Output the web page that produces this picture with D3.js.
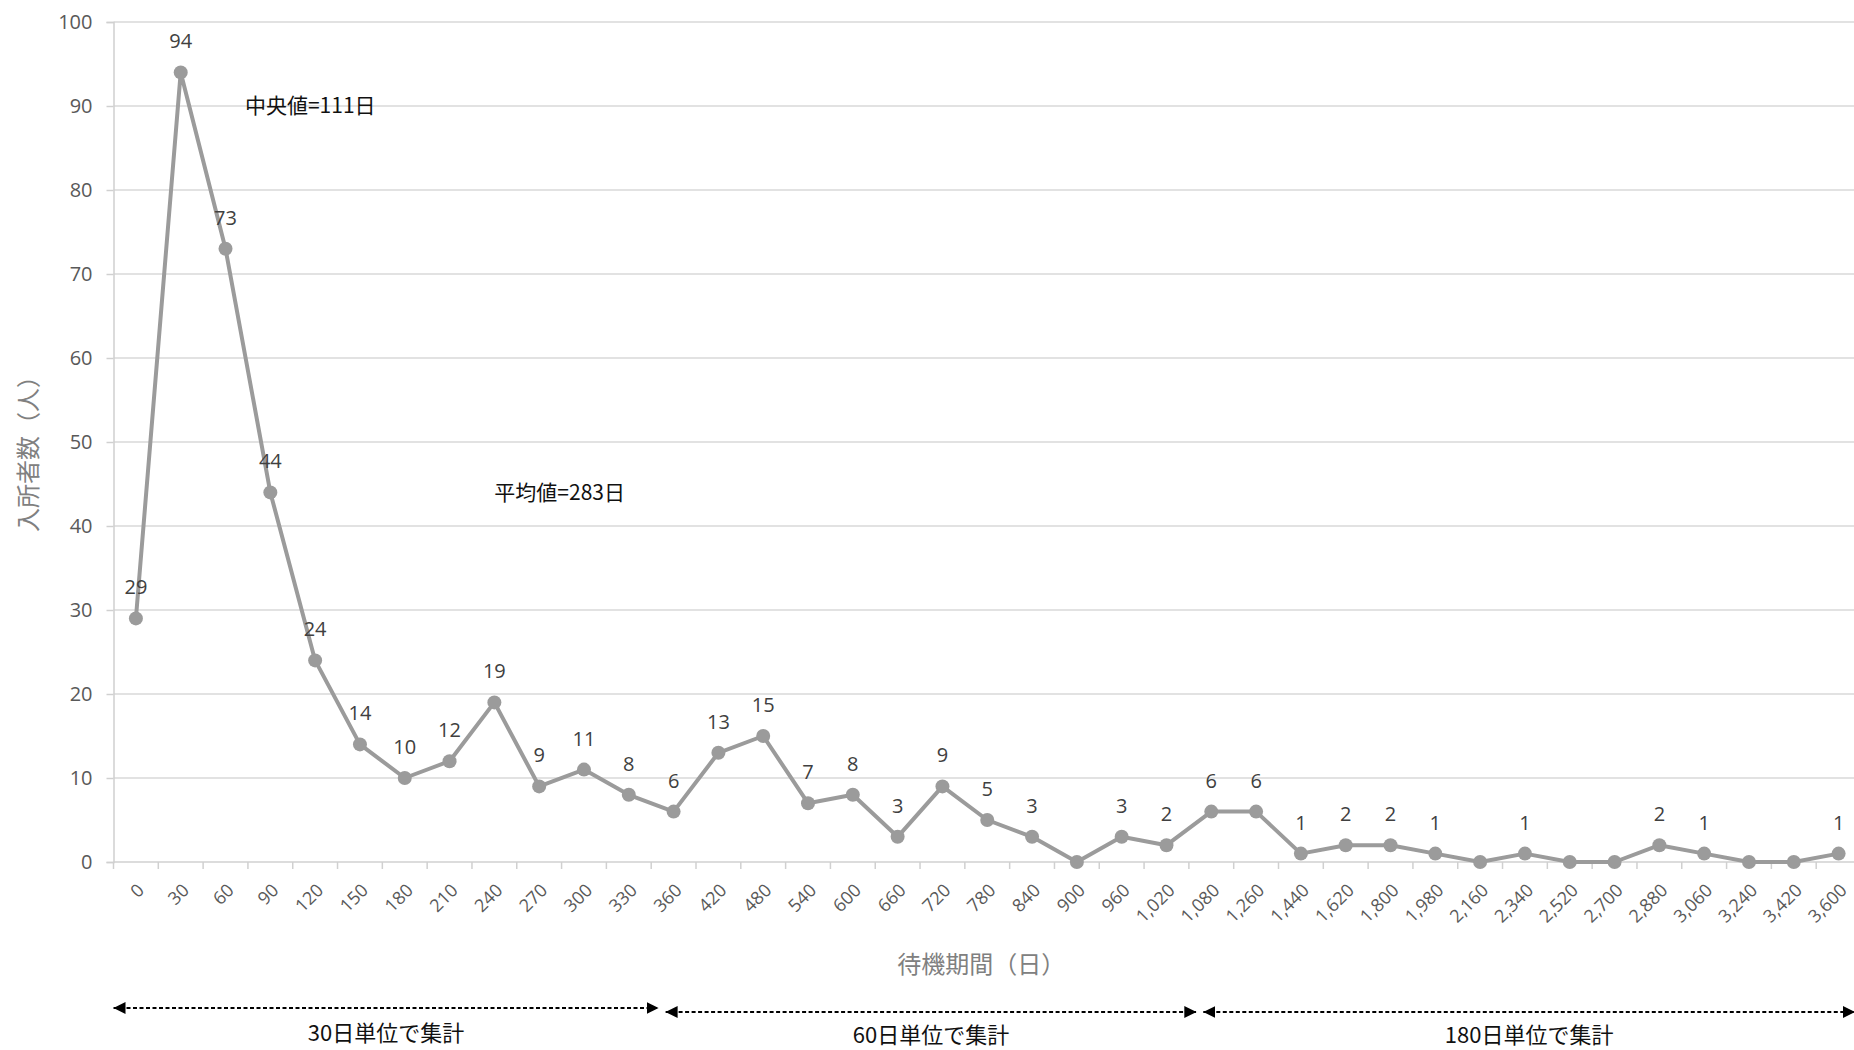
<!DOCTYPE html>
<html>
<head>
<meta charset="utf-8">
<script src="https://cdn.jsdelivr.net/npm/d3@7"></script>
<style>
  body { margin: 0; background: #fff; }
  svg { display: block; }
</style>
</head>
<body>
<div id="wrapper"></div>
<script>
// categories (waiting days) and counts
const categories = ["0","30","60","90","120","150","180","210","240","270","300","330","360",
  "420","480","540","600","660","720","780","840","900","960","1,020","1,080",
  "1,260","1,440","1,620","1,800","1,980","2,160","2,340","2,520","2,700","2,880","3,060","3,240","3,420","3,600"];
const counts = [29,94,73,44,24,14,10,12,19,9,11,8,6,
  13,15,7,8,3,9,5,3,0,3,2,6,
  6,1,2,2,1,0,1,0,0,2,1,0,0,1];
const yTicks = [0,10,20,30,40,50,60,70,80,90,100];
const groups = [
  {label: "30日単位で集計", from: "0", to: "360"},
  {label: "60日単位で集計", from: "360", to: "1,080"},
  {label: "180日単位で集計", from: "1,080", to: null}
];
const notes = [
  {text: "中央値=111日", cat: "90", value: 90},
  {text: "平均値=283日", cat: "240", value: 44}
];

const drawChart = () => {
  const dimensions = {
    width: 1854,
    height: 1050,
    margin: {top: 22, right: -7, bottom: 188, left: 113.5}
  };
  dimensions.boundedWidth = dimensions.width - dimensions.margin.left - dimensions.margin.right;
  dimensions.boundedHeight = dimensions.height - dimensions.margin.top - dimensions.margin.bottom;

  const svg = d3.select("#wrapper").append("svg")
    .attr("width", dimensions.width)
    .attr("height", dimensions.height);

  const bounds = svg.append("g")
    .attr("transform", `translate(${dimensions.margin.left},${dimensions.margin.top})`);

  const xScale = d3.scaleBand()
    .domain(categories)
    .range([0, dimensions.boundedWidth]);
  const bw = xScale.bandwidth();
  const xc = c => xScale(c) + bw / 2;

  const yScale = d3.scaleLinear()
    .domain([0, 100])
    .range([dimensions.boundedHeight, 0]);

  const tickFont = "'Open Sans', 'Noto Sans', sans-serif";
  const cjkFont = "'Noto Sans CJK JP', sans-serif";

  // gridlines
  bounds.append("g").selectAll("line")
    .data(yTicks.filter(d => d > 0))
    .join("line")
    .attr("x1", 0).attr("x2", dimensions.boundedWidth)
    .attr("y1", d => yScale(d)).attr("y2", d => yScale(d))
    .attr("stroke", "#d9d9d9").attr("stroke-width", 1.5);

  // y axis
  const yAxis = bounds.append("g")
    .call(d3.axisLeft(yScale).tickValues(yTicks).tickSize(7).tickPadding(14));
  yAxis.select(".domain").attr("stroke", "#d0d0d0").attr("stroke-width", 1.5);
  yAxis.selectAll(".tick line").attr("stroke", "#d0d0d0").attr("stroke-width", 1.5);
  yAxis.selectAll("text")
    .attr("fill", "#595959").style("font-size", "20px").style("font-family", tickFont);

  // x axis, ticks between categories
  const xAxisG = bounds.append("g")
    .attr("transform", `translate(0,${dimensions.boundedHeight})`);
  xAxisG.append("line")
    .attr("x1", 0).attr("x2", dimensions.boundedWidth)
    .attr("stroke", "#d0d0d0").attr("stroke-width", 1.5);
  xAxisG.selectAll(".tk")
    .data(categories)
    .join("line").attr("class", "tk")
    .attr("x1", d => xScale(d)).attr("x2", d => xScale(d))
    .attr("y1", 0).attr("y2", 7)
    .attr("stroke", "#d0d0d0").attr("stroke-width", 1.5);
  xAxisG.selectAll("text")
    .data(categories)
    .join("text")
    .attr("transform", d => `translate(${xc(d) + 5},${25}) rotate(-45)`)
    .attr("text-anchor", "end")
    .attr("dy", "0.35em")
    .attr("fill", "#595959")
    .style("font-size", "18px").style("font-family", tickFont)
    .text(d => d);

  // line + markers
  const lineGen = d3.line()
    .x((d, i) => xc(categories[i]))
    .y(d => yScale(d));
  bounds.append("path")
    .datum(counts)
    .attr("d", lineGen)
    .attr("fill", "none")
    .attr("stroke", "#9b9b9b")
    .attr("stroke-width", 4)
    .attr("stroke-linejoin", "round");
  bounds.append("g").selectAll("circle")
    .data(counts)
    .join("circle")
    .attr("cx", (d, i) => xc(categories[i]))
    .attr("cy", d => yScale(d))
    .attr("r", 7)
    .attr("fill", "#9b9b9b");

  // data labels (zeros unlabeled)
  bounds.append("g").selectAll("text")
    .data(counts.map((v, i) => ({v, c: categories[i]})).filter(d => d.v > 0))
    .join("text")
    .attr("x", d => xc(d.c))
    .attr("y", d => yScale(d.v) - 24)
    .attr("text-anchor", "middle")
    .attr("fill", "#404040")
    .style("font-size", "20px").style("font-family", tickFont)
    .text(d => d.v);

  // notes
  bounds.append("g").selectAll("text")
    .data(notes)
    .join("text")
    .attr("x", (d, i) => i === 0 ? xScale(d.cat) - 3 : xc(d.cat))
    .attr("y", d => yScale(d.value))
    .attr("dy", "0.35em")
    .attr("fill", "#111")
    .style("font-size", "21px").style("font-family", cjkFont)
    .text(d => d.text);

  // axis titles
  svg.append("text")
    .attr("transform", `translate(29,448) rotate(-90)`)
    .attr("text-anchor", "middle").attr("dy", "0.35em")
    .attr("fill", "#808080")
    .style("font-size", "24px").style("font-family", cjkFont)
    .text("入所者数（人）");
  svg.append("text")
    .attr("x", dimensions.margin.left + dimensions.boundedWidth / 2 - 6)
    .attr("y", 965).attr("dy", "0.35em")
    .attr("text-anchor", "middle")
    .attr("fill", "#808080")
    .style("font-size", "24px").style("font-family", cjkFont)
    .text("待機期間（日）");

  // aggregation range arrows
  const defs = svg.append("defs");
  defs.append("marker").attr("id", "ah")
    .attr("viewBox", "0 0 10 10").attr("refX", 10).attr("refY", 5)
    .attr("markerWidth", 12).attr("markerHeight", 14)
    .attr("markerUnits", "userSpaceOnUse")
    .attr("orient", "auto-start-reverse")
    .append("path").attr("d", "M0,0 L10,5 L0,10 Z").attr("fill", "#000");

  const arrows = bounds.append("g").attr("transform", `translate(0,${-dimensions.margin.top})`);
  groups.forEach((g, i) => {
    const x1 = i === 0 ? 0 : xc(g.from) - 8;
    const x2 = g.to ? xc(g.to) - 15 : dimensions.boundedWidth - 6;
    const y = i === 0 ? 1008 : 1012;
    arrows.append("line")
      .attr("x1", x1).attr("x2", x2).attr("y1", y).attr("y2", y)
      .attr("stroke", "#000").attr("stroke-width", 2)
      .attr("stroke-dasharray", "4,2.5")
      .attr("marker-start", "url(#ah)")
      .attr("marker-end", "url(#ah)");
    arrows.append("text")
      .attr("x", (x1 + x2) / 2)
      .attr("y", i === 0 ? 1033 : 1035).attr("dy", "0.35em")
      .attr("text-anchor", "middle")
      .attr("fill", "#111")
      .style("font-size", "22px").style("font-family", cjkFont)
      .text(g.label);
  });
};

drawChart();
</script>
</body>
</html>
